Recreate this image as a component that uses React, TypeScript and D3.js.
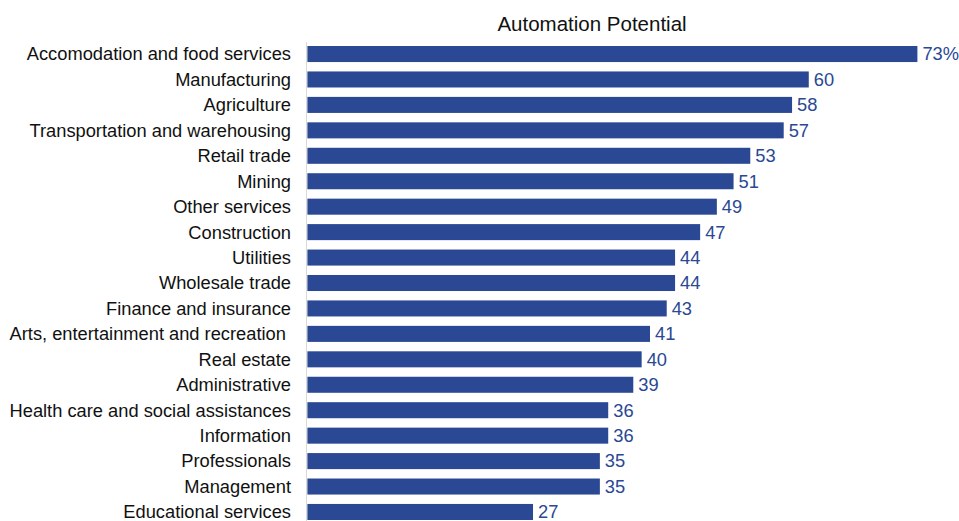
import React from "react";
import * as d3 from "d3";

const categories = [
  "Accomodation and food services",
  "Manufacturing",
  "Agriculture",
  "Transportation and warehousing",
  "Retail trade",
  "Mining",
  "Other services",
  "Construction",
  "Utilities",
  "Wholesale trade",
  "Finance and insurance",
  "Arts, entertainment and recreation ",
  "Real estate",
  "Administrative",
  "Health care and social assistances",
  "Information",
  "Professionals",
  "Management",
  "Educational services",
];
const values = [73, 60, 58, 57, 53, 51, 49, 47, 44, 44, 43, 41, 40, 39, 36, 36, 35, 35, 27];
const valueLabels = ["73%", "60", "58", "57", "53", "51", "49", "47", "44", "44", "43", "41", "40", "39", "36", "36", "35", "35", "27"];
const title = "Automation Potential";

const W = 959;
const H = 521;
const BAR = "#2a4894";
const FONT = "'Liberation Sans', Arial, sans-serif";

export default function App() {
  const x = d3.scaleLinear().domain([0, 73]).range([307.4, 917.4]);
  const y = d3.scaleBand<string>().domain(categories).range([36.6, 529.4]).padding(0.37);
  return (
    <svg width={W} height={H} style={{ position: "absolute", left: 0, top: 0, background: "#fff" }} fontFamily={FONT}>
      <text x={592} y={31} textAnchor="middle" fontSize={20.5} fill="#111">{title}</text>
      <line x1={306.5} x2={306.5} y1={42} y2={H} stroke="#d9d9d9" strokeWidth={1} />
      {categories.map((c, i) => {
        const yy = y(c)!;
        const bh = y.bandwidth();
        return (
          <g key={c}>
            <rect x={x(0)} y={yy} width={x(values[i]) - x(0)} height={bh} fill={BAR} />
            <text x={291} y={yy + bh / 2} dy="0.35em" textAnchor="end" fontSize={18.3} fill="#111" style={{ whiteSpace: "pre" }}>{c}</text>
            <text x={x(values[i]) + 5} y={yy + bh / 2} dy="0.35em" fontSize={18.3} fill={BAR}>{valueLabels[i]}</text>
          </g>
        );
      })}
    </svg>
  );
}
